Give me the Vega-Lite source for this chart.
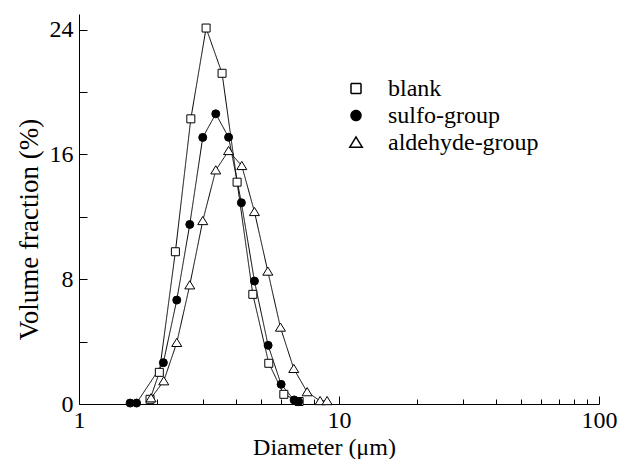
{
  "$schema": "https://vega.github.io/schema/vega-lite/v6.json",
  "width": 520,
  "height": 390,
  "autosize": {"type": "none"},
  "padding": {"left": 79, "top": 14, "right": 19, "bottom": 55},
  "background": "white",
  "config": {
    "view": {"stroke": null},
    "font": "Liberation Serif",
    "axis": {
      "grid": false,
      "domainColor": "black",
      "domainWidth": 1,
      "tickColor": "black",
      "tickWidth": 1,
      "labelColor": "black",
      "titleColor": "black",
      "titleFontWeight": "normal"
    },
    "legend": {
      "labelFont": "Liberation Serif",
      "labelFontSize": 24,
      "labelColor": "black"
    }
  },
  "data": {
    "values": [
      {"series": "blank", "d": 1.876, "v": 0.3},
      {"series": "blank", "d": 2.037, "v": 2.03},
      {"series": "blank", "d": 2.348, "v": 9.76},
      {"series": "blank", "d": 2.692, "v": 18.28},
      {"series": "blank", "d": 3.082, "v": 24.1},
      {"series": "blank", "d": 3.55, "v": 21.2},
      {"series": "blank", "d": 4.056, "v": 14.22},
      {"series": "blank", "d": 4.662, "v": 7.03},
      {"series": "blank", "d": 5.37, "v": 2.61},
      {"series": "blank", "d": 6.135, "v": 0.62},
      {"series": "blank", "d": 7.025, "v": 0.16},
      {"series": "sulfo-group", "d": 1.572, "v": 0.06},
      {"series": "sulfo-group", "d": 1.665, "v": 0.06},
      {"series": "sulfo-group", "d": 2.111, "v": 2.65},
      {"series": "sulfo-group", "d": 2.377, "v": 6.66},
      {"series": "sulfo-group", "d": 2.667, "v": 11.51},
      {"series": "sulfo-group", "d": 2.992, "v": 17.09},
      {"series": "sulfo-group", "d": 3.358, "v": 18.6},
      {"series": "sulfo-group", "d": 3.761, "v": 17.1},
      {"series": "sulfo-group", "d": 4.213, "v": 12.9},
      {"series": "sulfo-group", "d": 4.73, "v": 7.88},
      {"series": "sulfo-group", "d": 5.338, "v": 3.76},
      {"series": "sulfo-group", "d": 5.99, "v": 1.26},
      {"series": "sulfo-group", "d": 6.72, "v": 0.26},
      {"series": "sulfo-group", "d": 6.994, "v": 0.15},
      {"series": "aldehyde-group", "d": 1.893, "v": 0.38},
      {"series": "aldehyde-group", "d": 2.118, "v": 1.47},
      {"series": "aldehyde-group", "d": 2.377, "v": 3.93},
      {"series": "aldehyde-group", "d": 2.667, "v": 7.62},
      {"series": "aldehyde-group", "d": 2.992, "v": 11.74},
      {"series": "aldehyde-group", "d": 3.358, "v": 14.99},
      {"series": "aldehyde-group", "d": 3.761, "v": 16.23},
      {"series": "aldehyde-group", "d": 4.228, "v": 15.27},
      {"series": "aldehyde-group", "d": 4.73, "v": 12.32},
      {"series": "aldehyde-group", "d": 5.324, "v": 8.5},
      {"series": "aldehyde-group", "d": 5.953, "v": 4.91},
      {"series": "aldehyde-group", "d": 6.7, "v": 2.26},
      {"series": "aldehyde-group", "d": 7.54, "v": 0.77},
      {"series": "aldehyde-group", "d": 8.46, "v": 0.2},
      {"series": "aldehyde-group", "d": 9.0, "v": 0.2}
    ]
  },
  "encoding": {
    "x": {
      "field": "d",
      "type": "quantitative",
      "scale": {"type": "log", "domain": [1, 100], "nice": false},
      "axis": {
        "title": "Diameter (\u03bcm)",
        "labelFont": "Liberation Serif",
        "titleFont": "Liberation Serif",
        "labelFontSize": 24,
        "titleFontSize": 24,
        "titleX": 245,
        "values": [1, 2, 3, 4, 5, 6, 7, 8, 9, 10, 20, 30, 40, 50, 60, 70, 80, 90, 100],
        "labelExpr": "(datum.value == 1 || datum.value == 10 || datum.value == 100) ? datum.label : ''",
        "tickSize": {"condition": {"test": "datum.value == 1 || datum.value == 10 || datum.value == 100", "value": -8}, "value": -5},
        "labelPadding": 12,
        "labelFlush": false,
        "labelOverlap": false,
        "titlePadding": 0
      }
    },
    "y": {
      "field": "v",
      "type": "quantitative",
      "scale": {"domain": [0, 25], "nice": false, "zero": true},
      "axis": {
        "title": "Volume fraction (%)",
        "labelFont": "Liberation Serif",
        "titleFont": "Liberation Serif",
        "labelFontSize": 24,
        "titleFontSize": 27,
        "titleY": 215,
        "values": [0, 4, 8, 12, 16, 20, 24],
        "labelExpr": "(datum.value % 8 == 0) ? datum.label : ''",
        "tickSize": -8,
        "labelPadding": 14,
        "labelFlush": false,
        "labelOverlap": false,
        "titlePadding": 6
      }
    }
  },
  "layer": [
    {
      "mark": {"type": "line", "color": "black", "strokeWidth": 1},
      "encoding": {
        "strokeDash": {
          "field": "series",
          "type": "nominal",
          "scale": {"domain": ["blank", "sulfo-group", "aldehyde-group"], "range": [[1, 0], [1, 0], [1, 0]]},
          "legend": {
            "title": null,
            "orient": "none",
            "legendX": 265,
            "legendY": 62.5,
            "symbolSize": 100,
            "labelOffset": 20,
            "rowPadding": 3,
            "padding": 0,
            "encode": {
              "symbols": {
                "fill": {"value": {"expr": "datum.value === 'sulfo-group' ? 'black' : 'white'"}},
                "stroke": {"value": "black"},
                "strokeWidth": {"value": 1},
                "strokeDash": {"value": [1, 0]},
                "opacity": {"value": 1}
              }
            }
          }
        }
      }
    },
    {
      "mark": {"type": "point", "filled": true, "stroke": "black", "strokeWidth": 1, "opacity": 1, "size": 64},
      "encoding": {
        "shape": {
          "field": "series",
          "type": "nominal",
          "scale": {"domain": ["blank", "sulfo-group", "aldehyde-group"], "range": ["square", "circle", "M0,-1.1L1.25,0.95L-1.25,0.95Z"]},
          "legend": null
        },
        "fill": {
          "field": "series",
          "type": "nominal",
          "scale": {"domain": ["blank", "sulfo-group", "aldehyde-group"], "range": ["white", "black", "white"]},
          "legend": null
        }
      }
    }
  ]
}
